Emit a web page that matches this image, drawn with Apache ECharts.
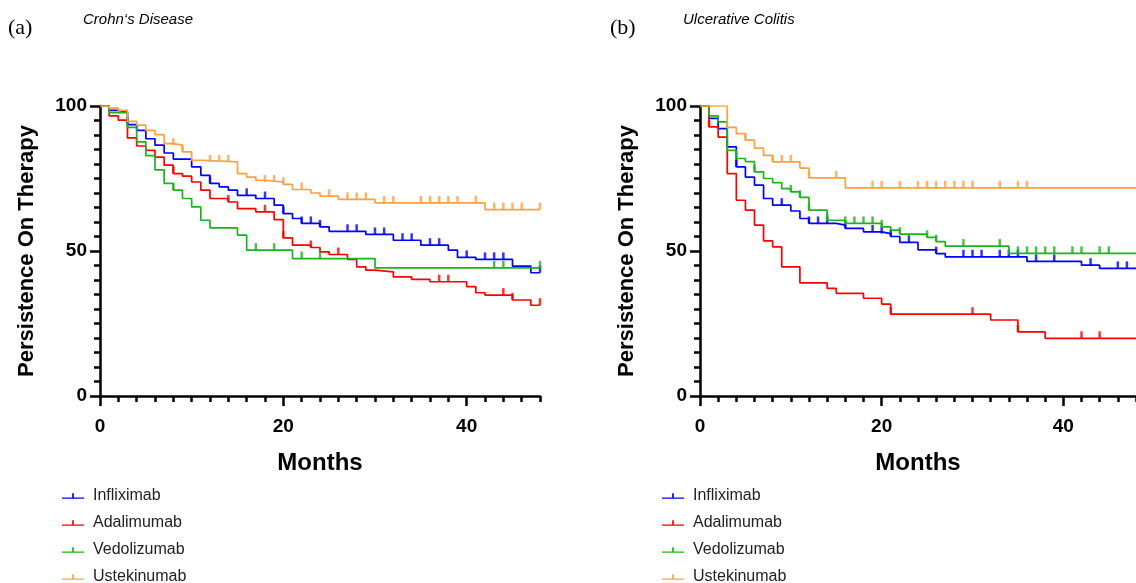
<!DOCTYPE html>
<html>
<head>
<meta charset="utf-8">
<title>Persistence On Therapy</title>
<script src="https://cdn.jsdelivr.net/npm/echarts@6/dist/echarts.min.js"></script>
<style>
  html, body { margin: 0; padding: 0; background: #fff; }
  #main { width: 1136px; height: 583px; }
</style>
</head>
<body>
<div id="main"></div>
<script>
// (a) Crohn's disease - [month, % still on therapy], step changes
var cdInfliximab = [[0,100],[1,98.5],[2,97.9],[3,93.6],[4,91.6],[5,88.7],[6,86.5],[7,83.8],[8,81.7],[10,79.0],[11,76.1],[12,73.3],[13,72.1],[14,71.0],[15,69.2],[17,68.1],[19,65.8],[20,62.9],[21,61.2],[22,59.5],[24,58.3],[25,56.8],[29,55.7],[32,53.7],[35,52.0],[38,50.3],[39,47.8],[41,47.1],[45,44.8],[47,42.5],[48,42.5]];
var cdAdalimumab = [[0,100],[1,96.6],[2,95.1],[3,89.0],[4,86.2],[5,84.7],[6,82.4],[7,79.6],[8,76.7],[9,75.8],[10,73.8],[11,71.0],[12,68.1],[14,66.9],[15,64.6],[17,63.5],[19,60.8],[20,54.5],[21,52.0],[23,51.2],[24,49.7],[25,48.8],[27,47.1],[28,44.5],[29,43.4],[30,42.8],[32,41.1],[34,40.2],[36,39.4],[40,37.7],[41,35.6],[42,34.8],[45,33.1],[47,31.3],[48,31.3]];
var cdVedolizumab = [[0,100],[1,97.7],[3,92.6],[4,87.6],[5,82.9],[6,78.0],[7,73.3],[8,71.0],[9,68.1],[10,65.2],[11,60.6],[12,58.0],[15,55.5],[16,50.3],[21,47.4],[30,44.2],[48,44.2]];
var cdUstekinumab = [[0,100],[1,99.3],[2,98.5],[3,94.7],[4,93.4],[5,91.6],[6,90.1],[7,87.0],[8,86.5],[9,84.2],[10,81.3],[11,80.7],[15,76.7],[16,75.5],[17,74.4],[18,73.8],[20,73.0],[21,71.2],[23,70.0],[24,68.9],[26,67.8],[30,66.6],[42,64.3],[48,64.3]];

// censored months (a)
var cdInfCensored = [3,12,16,18,20,22,23,24,27,28,30,31,33,34,36,37,40,42,43,44,48];
var cdAdaCensored = [8,14,18,20,23,26,37,38,44,45,48];
var cdVedCensored = [8,17,19,22,24,43,44,48];
var cdUstCensored = [8,9,12,13,14,18,19,20,22,25,27,28,29,31,32,35,36,37,38,39,41,43,44,45,46,48];

// (b) Ulcerative colitis
var ucInfliximab = [[0,100],[1,95.7],[2,92.2],[3,85.9],[4,79.0],[5,75.5],[6,72.7],[7,68.1],[8,65.8],[10,63.8],[11,61.2],[12,59.5],[15,58.9],[16,57.8],[18,56.6],[20,56.0],[21,55.0],[22,53.0],[24,50.4],[26,49.1],[27,48.0],[36,46.4],[42,45.1],[44,44.0],[48,44.0]];
var ucAdalimumab = [[0,100],[1,92.8],[2,89.3],[3,76.7],[4,67.5],[5,64.1],[6,58.9],[7,53.5],[8,51.4],[9,44.5],[11,39.0],[14,37.1],[15,35.4],[18,33.7],[20,31.7],[21,28.2],[32,26.2],[35,22.1],[38,19.9],[48,19.9]];
var ucVedolizumab = [[0,100],[1,96.6],[2,94.5],[3,84.7],[4,81.9],[5,80.8],[6,77.3],[7,75.0],[8,73.6],[9,71.5],[10,70.4],[11,68.5],[12,64.1],[14,60.6],[16,59.5],[20,58.3],[21,57.2],[22,55.8],[25,54.7],[26,53.2],[27,51.7],[34,49.2],[48,49.2]];
var ucUstekinumab = [[0,100],[3,92.6],[4,90.5],[5,88.2],[6,85.5],[7,83.0],[8,80.7],[11,78.6],[12,75.2],[16,71.8],[48,71.8]];

var ucInfCensored = [4,9,12,13,14,16,19,20,21,23,26,29,30,31,33,34,35,37,39,43,46,47];
var ucAdaCensored = [1,21,30,35,42,44];
var ucVedCensored = [4,6,10,11,12,14,16,17,18,19,20,22,25,26,29,33,35,36,37,38,39,41,42,44,45];
var ucUstCensored = [5,8,9,10,12,15,19,20,22,24,25,26,27,28,29,30,33,35,36];

var drugNames = ['Infliximab', 'Adalimumab', 'Vedolizumab', 'Ustekinumab'];
var drugColors = ['#0000ff', '#ff0000', '#1db31d', '#ffa040'];
var xTicks = [0, 20, 40];

var chart = echarts.init(document.getElementById('main'));

// level of the step curve at a given month
var levelAt = function(curve, m) {
  var v = curve[0][1];
  for (var i = 0; i < curve.length; i++) {
    if (curve[i][0] <= m) v = curve[i][1];
  }
  return v;
};

var boldFont = 'Liberation Sans, Arial, sans-serif';
var legendIcon = 'path://M0,5 L26,5 L26,6.6 L0,6.6 Z M12,0 L14,0 L14,6 L12,6 Z';

var makeX = function(gridIndex) {
  return [{
    type: 'value', gridIndex: gridIndex, position: 'bottom', min: 0, max: 48, interval: 20,
    name: 'Months', nameLocation: 'middle', nameGap: 55,
    nameTextStyle: { fontFamily: boldFont, fontWeight: 'bold', fontSize: 24, color: '#000' },
    axisLine: { lineStyle: { color: '#000', width: 2.5 } },
    axisTick: { length: 10, customValues: xTicks, lineStyle: { width: 2.5, color: '#000' } },
    axisLabel: { margin: 21, fontFamily: boldFont, fontWeight: 'bold', fontSize: 19, color: '#000',
      customValues: xTicks },
    splitLine: { show: false }
  }, {
    // small ticks every 2 months
    type: 'value', gridIndex: gridIndex, position: 'bottom', min: 0, max: 48, interval: 2,
    axisLine: { show: false },
    axisTick: { length: 6, lineStyle: { width: 2.5, color: '#000' } },
    axisLabel: { show: false },
    splitLine: { show: false }
  }];
};

var makeY = function(gridIndex) {
  return {
    type: 'value', gridIndex: gridIndex, min: 0, max: 100, interval: 50,
    name: 'Persistence On Therapy', nameLocation: 'middle', nameGap: 62,
    nameTextStyle: { fontFamily: boldFont, fontWeight: 'bold', fontSize: 22, color: '#000' },
    axisLine: { show: true, lineStyle: { color: '#000', width: 2.5 } },
    axisTick: { show: true, length: 10, lineStyle: { width: 2.5, color: '#000' } },
    minorTick: { show: true, splitNumber: 10, length: 6, lineStyle: { width: 2.5, color: '#000' } },
    axisLabel: { margin: 13, fontFamily: boldFont, fontWeight: 'bold', fontSize: 19, color: '#000' },
    splitLine: { show: false }
  };
};

var series = [];
var addPanel = function(curves, censored, xIdx, yIdx) {
  for (var i = 0; i < curves.length; i++) {
    series.push({
      name: drugNames[i], type: 'line', step: 'end',
      xAxisIndex: xIdx, yAxisIndex: yIdx,
      data: curves[i], showSymbol: false, symbol: 'none',
      lineStyle: { color: drugColors[i], width: 1.7 },
      itemStyle: { color: drugColors[i] },
      z: 3 + i
    });
    var marks = [];
    for (var j = 0; j < censored[i].length; j++) {
      marks.push([censored[i][j], levelAt(curves[i], censored[i][j])]);
    }
    series.push({
      type: 'scatter', xAxisIndex: xIdx, yAxisIndex: yIdx,
      data: marks, symbol: 'rect', symbolSize: [2.5, 7], symbolOffset: [0, -3.5],
      itemStyle: { color: drugColors[i] }, silent: true, z: 3 + i
    });
  }
};
addPanel([cdInfliximab, cdAdalimumab, cdVedolizumab, cdUstekinumab],
  [cdInfCensored, cdAdaCensored, cdVedCensored, cdUstCensored], 0, 0);
addPanel([ucInfliximab, ucAdalimumab, ucVedolizumab, ucUstekinumab],
  [ucInfCensored, ucAdaCensored, ucVedCensored, ucUstCensored], 2, 1);

var makeLegend = function(left) {
  return {
    data: drugNames, orient: 'vertical', left: left, top: 483, height: 140,
    icon: legendIcon, itemWidth: 22, itemHeight: 7, itemGap: 11,
    selectedMode: false,
    textStyle: { fontFamily: boldFont, fontSize: 16, color: '#222', padding: [0, 0, 0, 4] }
  };
};

var options = {
  animation: false,
  backgroundColor: '#fff',
  grid: [
    { left: 100, top: 106, width: 440, height: 290 },
    { left: 700, top: 106, width: 439, height: 290 }
  ],
  xAxis: makeX(0).concat(makeX(1)),
  yAxis: [makeY(0), makeY(1)],
  legend: [makeLegend(57), makeLegend(657)],
  graphic: [
    { type: 'text', left: 8, top: 17, style: { text: '(a)', font: '22px "Liberation Serif", serif', fill: '#000' } },
    { type: 'text', left: 83, top: 12, style: { text: 'Crohn\u2018s Disease', font: 'italic 15px "Liberation Sans", Arial, sans-serif', fill: '#000' } },
    { type: 'text', left: 610, top: 17, style: { text: '(b)', font: '22px "Liberation Serif", serif', fill: '#000' } },
    { type: 'text', left: 683, top: 12, style: { text: 'Ulcerative Colitis', font: 'italic 15px "Liberation Sans", Arial, sans-serif', fill: '#000' } }
  ],
  series: series
};

chart.setOption(options, true);
</script>
</body>
</html>
